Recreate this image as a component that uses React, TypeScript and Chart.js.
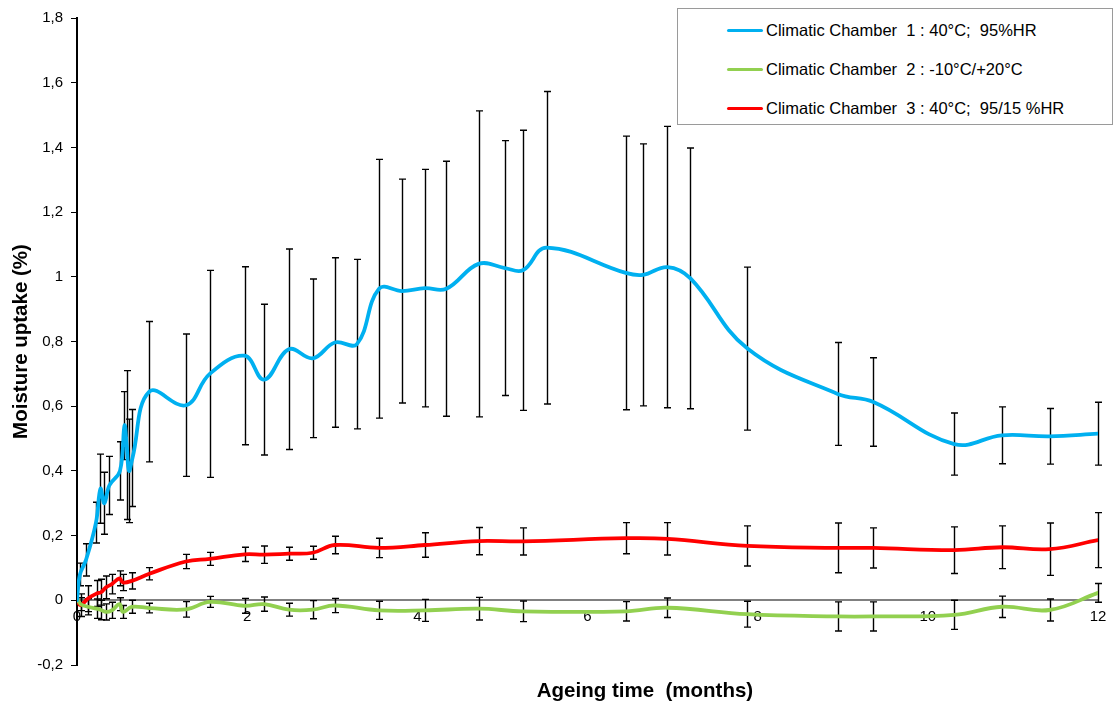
import React, { useEffect, useRef } from 'react';
import { Chart, registerables } from 'chart.js';

Chart.register(...registerables);

// Chamber 1 (blue) – time in months
const blueTimes = [0, 0.035, 0.106, 0.223, 0.276, 0.321, 0.38, 0.505, 0.558, 0.584, 0.611, 0.652, 0.85, 1.28, 1.56, 1.97, 2.2, 2.49, 2.77, 3.03, 3.29, 3.55, 3.82, 4.09, 4.34, 4.72, 5.03, 5.24, 5.52, 6.45, 6.65, 6.94, 7.21, 7.88, 8.94, 9.36, 10.31, 10.87, 11.43, 12];
const blueValues = [0, 0.08, 0.125, 0.24, 0.345, 0.30, 0.355, 0.40, 0.54, 0.48, 0.40, 0.44, 0.645, 0.603, 0.70, 0.756, 0.682, 0.776, 0.748, 0.797, 0.792, 0.963, 0.956, 0.965, 0.963, 1.04, 1.027, 1.02, 1.09, 1.012, 1.006, 1.03, 0.995, 0.778, 0.638, 0.613, 0.483, 0.51, 0.507, 0.515];
const blueErrors = [0, 0.035, 0.05, 0.063, 0.107, 0.096, 0.09, 0.09, 0.105, 0.23, 0.16, 0.15, 0.217, 0.22, 0.32, 0.275, 0.233, 0.31, 0.245, 0.262, 0.262, 0.40, 0.346, 0.367, 0.394, 0.473, 0.394, 0.433, 0.483, 0.423, 0.405, 0.435, 0.403, 0.252, 0.159, 0.137, 0.096, 0.088, 0.086, 0.097];

// Chambers 2 (green) and 3 (red) share their measurement times
const rgTimes = [0, 0.044, 0.126, 0.232, 0.282, 0.341, 0.41, 0.50, 0.54, 0.643, 0.85, 1.28, 1.56, 1.97, 2.2, 2.49, 2.77, 3.03, 3.55, 4.09, 4.72, 5.24, 6.45, 6.94, 7.88, 8.94, 9.36, 10.31, 10.87, 11.43, 12];
const redValues = [-0.002, -0.015, 0.005, 0.021, 0.025, 0.04, 0.05, 0.068, 0.055, 0.06, 0.082, 0.12, 0.128, 0.142, 0.141, 0.144, 0.147, 0.171, 0.162, 0.171, 0.183, 0.182, 0.192, 0.19, 0.168, 0.162, 0.162, 0.155, 0.164, 0.158, 0.186];
const redErrors = [0, 0.035, 0.04, 0.04, 0.04, 0.035, 0.03, 0.023, 0.025, 0.025, 0.019, 0.022, 0.02, 0.022, 0.027, 0.02, 0.02, 0.027, 0.03, 0.038, 0.042, 0.042, 0.048, 0.05, 0.062, 0.077, 0.062, 0.072, 0.066, 0.081, 0.085];
const greenValues = [0.005, -0.012, -0.02, -0.026, -0.03, -0.036, -0.031, -0.012, -0.036, -0.02, -0.024, -0.028, -0.005, -0.017, -0.012, -0.029, -0.029, -0.016, -0.031, -0.031, -0.026, -0.034, -0.034, -0.023, -0.043, -0.05, -0.05, -0.045, -0.02, -0.03, 0.023];
const greenErrors = [0, 0.02, 0.025, 0.03, 0.03, 0.025, 0.025, 0.02, 0.02, 0.02, 0.015, 0.024, 0.017, 0.023, 0.022, 0.02, 0.028, 0.022, 0.028, 0.034, 0.035, 0.032, 0.03, 0.03, 0.04, 0.045, 0.045, 0.045, 0.033, 0.034, 0.029];

const seriesLabels = [
  'Climatic Chamber  1 : 40°C;  95%HR',
  'Climatic Chamber  2 : -10°C/+20°C',
  'Climatic Chamber  3 : 40°C;  95/15 %HR',
];
const seriesColors = ['#00B0F0', '#92D050', '#FF0000'];
const xTitle = 'Ageing time  (months)';
const yTitle = 'Moisture uptake (%)';

const FONT = '"Liberation Sans", Arial, sans-serif';

const errorBarPlugin = {
  id: 'errorBars',
  beforeDatasetsDraw(chart: any) {
    const { ctx } = chart;
    const yScale = chart.scales.y;
    ctx.save();
    ctx.beginPath();
    ctx.rect(chart.chartArea.left - 10, chart.chartArea.top, chart.chartArea.right - chart.chartArea.left + 20, chart.chartArea.bottom - chart.chartArea.top);
    ctx.clip();
    ctx.strokeStyle = '#000';
    ctx.lineWidth = 1.4;
    chart.data.datasets.forEach((ds: any, di: number) => {
      const meta = chart.getDatasetMeta(di);
      (ds.errors || []).forEach((e: number, i: number) => {
        if (!e) return;
        const pt = meta.data[i];
        if (!pt) return;
        const v = ds.data[i].y;
        const top = yScale.getPixelForValue(v + e);
        const bot = yScale.getPixelForValue(v - e);
        const x = Math.round(pt.x) + 0.5;
        const cap = 3.5;
        ctx.beginPath();
        ctx.moveTo(x, top);
        ctx.lineTo(x, bot);
        ctx.moveTo(x - cap, top);
        ctx.lineTo(x + cap, top);
        ctx.moveTo(x - cap, bot);
        ctx.lineTo(x + cap, bot);
        ctx.stroke();
      });
    });
    ctx.restore();
  },
};

function fmt(v: number | string) {
  const n = Number(Number(v).toFixed(1));
  return String(n).replace('.', ',');
}

export default function App() {
  const ref = useRef<HTMLCanvasElement>(null);

  useEffect(() => {
    const canvas = ref.current;
    if (!canvas) return;
    const pts = (t: number[], v: number[]) => t.map((x, i) => ({ x, y: v[i] }));
    const chart = new Chart(canvas, {
      type: 'line',
      data: {
        datasets: [
          {
            label: seriesLabels[0],
            data: pts(blueTimes, blueValues),
            errors: blueErrors,
            borderColor: seriesColors[0],
            backgroundColor: seriesColors[0],
          } as any,
          {
            label: seriesLabels[1],
            data: pts(rgTimes, greenValues),
            errors: greenErrors,
            borderColor: seriesColors[1],
            backgroundColor: seriesColors[1],
          } as any,
          {
            label: seriesLabels[2],
            data: pts(rgTimes, redValues),
            errors: redErrors,
            borderColor: seriesColors[2],
            backgroundColor: seriesColors[2],
          } as any,
        ],
      },
      options: {
        animation: false,
        responsive: false,
        layout: { padding: { left: 0, right: 17, top: 18, bottom: 39 } },
        plugins: { legend: { display: false }, tooltip: { enabled: false } },
        elements: {
          point: { radius: 0, hoverRadius: 0 },
          line: { tension: 0.4, borderWidth: 3.8, borderCapStyle: 'round', borderJoinStyle: 'round' },
        },
        scales: {
          x: {
            type: 'linear',
            min: 0,
            max: 12,
            position: { y: 0 } as any,
            ticks: { stepSize: 2, color: '#000', font: { family: FONT, size: 15 }, padding: 8, maxRotation: 0 },
            grid: { display: true, drawOnChartArea: false, drawTicks: false },
            border: { color: '#808080', width: 2 },
          },
          y: {
            type: 'linear',
            min: -0.2,
            max: 1.8,
            ticks: { stepSize: 0.2, color: '#000', font: { family: FONT, size: 15 }, padding: 8, callback: (v: any) => fmt(v) },
            grid: { display: true, drawOnChartArea: false, drawTicks: true, tickLength: 6, color: '#000', lineWidth: 1 },
            border: { color: '#000', width: 2 },
            title: {
              display: true,
              text: yTitle,
              color: '#000',
              font: { family: FONT, size: 20.5, weight: 'bold' },
              padding: { top: 9, bottom: 0 },
            },
            afterFit: (s: any) => { s.width = 77; },
          },
        },
      },
      plugins: [errorBarPlugin],
    } as any);
    return () => chart.destroy();
  }, []);

  const rowY = [29, 68, 107];
  return (
    <div style={{ position: 'absolute', left: 0, top: 0, width: 1115, height: 704, background: '#fff', overflow: 'hidden' }}>
      <canvas ref={ref} width={1115} height={704} style={{ display: 'block', width: 1115, height: 704 }} />
      <div
        style={{
          position: 'absolute', left: 677, top: 8, width: 434, height: 115,
          border: '1px solid #9a9a9a', background: '#fff', boxSizing: 'content-box',
        }}
      >
        {seriesLabels.map((lab, i) => (
          <div key={lab} style={{ position: 'absolute', left: 0, top: rowY[i] - 8 - 11, height: 22, width: 434 }}>
            <div style={{ position: 'absolute', left: 49, top: 9.5, width: 36, height: 3.5, borderRadius: 2, background: seriesColors[i] }} />
            <div style={{ position: 'absolute', left: 88, top: 0, lineHeight: '22px', fontFamily: FONT, fontSize: 16.5, color: '#000', whiteSpace: 'pre' }}>{lab}</div>
          </div>
        ))}
      </div>
      <div
        style={{
          position: 'absolute', left: 445, width: 400, top: 678, textAlign: 'center',
          fontFamily: FONT, fontWeight: 'bold', fontSize: 20.5, lineHeight: '24px', color: '#000', whiteSpace: 'pre',
        }}
      >
        {xTitle}
      </div>
    </div>
  );
}
